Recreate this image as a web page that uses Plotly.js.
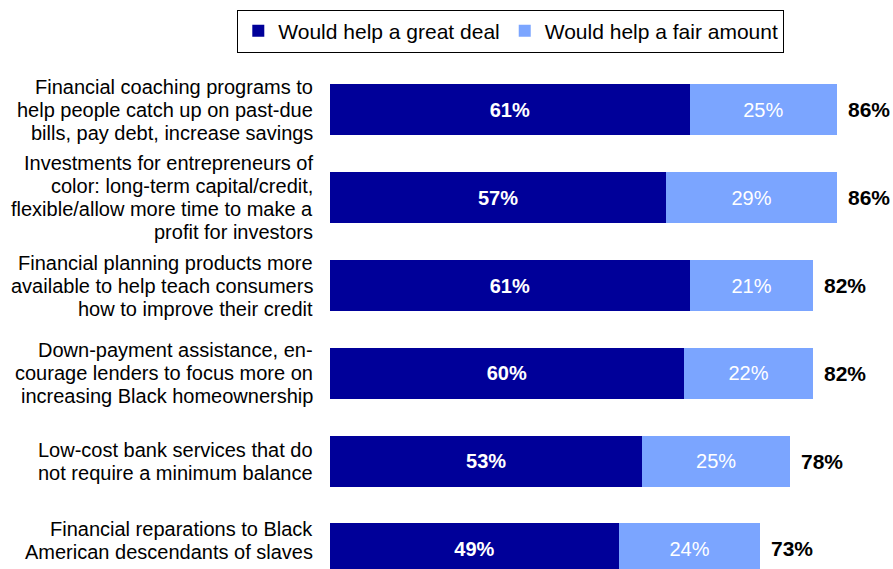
<!DOCTYPE html>
<html>
<head>
<meta charset="utf-8">
<script src="https://cdn.plot.ly/plotly-3.0.1.min.js"></script>
<style>html,body{margin:0;padding:0;background:#fff}#chart{width:893px;height:569px}</style>
</head>
<body>
<div id="chart"></div>
<script>
const categories = [
  "Financial coaching programs to<br>help people catch up on past-due<br>bills, pay debt, increase savings",
  "Investments for entrepreneurs of<br>color: long-term capital/credit,<br>flexible/allow more time to make a<br>profit for investors",
  "Financial planning products more<br>available to help teach consumers<br>how to improve their credit",
  "Down-payment assistance, en-<br>courage lenders to focus more on<br>increasing Black homeownership",
  "Low-cost bank services that do<br>not require a minimum balance",
  "Financial reparations to Black<br>American descendants of slaves"
];
const greatDeal = [61, 57, 61, 60, 53, 49];
const fairAmount = [25, 29, 21, 22, 25, 24];
const totals = [86, 86, 82, 82, 78, 73];
const seriesNames = ["Would help a great deal", "Would help a fair amount"];

const FONT = "Liberation Sans, Arial, sans-serif";
const DARK = "#000099";
const LIGHT = "#7BA5FF";
const LINE_PITCH = 23;     // px between lines of a category label
const LABEL_GAP = 15;      // px between label block and plot area
const BOTTOM_LIMIT = 564;  // keep label blocks inside the figure

const traces = [
  {
    type: "bar", orientation: "h", name: seriesNames[0],
    y: categories, x: greatDeal,
    marker: {color: DARK},
    width: 0.58,
    text: greatDeal.map(v => v + "%"),
    texttemplate: "<b>%{text}</b>",
    textposition: "inside", insidetextanchor: "middle",
    textfont: {color: "#ffffff", size: 20, family: FONT},
    hoverinfo: "skip"
  },
  {
    type: "bar", orientation: "h", name: seriesNames[1],
    y: categories, x: fairAmount,
    marker: {color: LIGHT},
    width: 0.58,
    text: fairAmount.map(v => v + "%"),
    textposition: "inside", insidetextanchor: "middle",
    textfont: {color: "#ffffff", size: 20, family: FONT},
    hoverinfo: "skip"
  }
];

const totalAnnotations = totals.map((t, i) => ({
  x: t, y: categories[i], xref: "x", yref: "y",
  text: "<b>" + t + "%</b>", showarrow: false,
  xanchor: "left", yanchor: "middle", xshift: 9,
  font: {size: 21, color: "#000000", family: FONT}
}));

const layout = {
  width: 893, height: 569,
  margin: {l: 330, r: 0, t: 66, b: 0, pad: 0},
  paper_bgcolor: "#ffffff", plot_bgcolor: "#ffffff",
  barmode: "stack",
  font: {family: FONT, color: "#000000", size: 20},
  showlegend: true,
  legend: {
    orientation: "h",
    xref: "container", yref: "container",
    x: 0.572, xanchor: "center",
    y: 1 - 31/569, yanchor: "middle",
    bordercolor: "#000000", borderwidth: 1,
    font: {size: 21, family: FONT, color: "#000000"},
    traceorder: "normal"
  },
  xaxis: {
    range: [0, 95.5], showgrid: false, zeroline: false,
    showticklabels: false, showline: false, ticks: "", fixedrange: true
  },
  yaxis: {
    type: "category",
    range: [5.229, -0.5],
    showgrid: false, zeroline: false, showline: false,
    ticks: "", automargin: false, showticklabels: false,
    fixedrange: true
  },
  annotations: totalAnnotations
};

const gd = document.getElementById("chart");
Plotly.newPlot(gd, traces, layout, {displayModeBar: false, staticPlot: true}).then(() => {
  const ya = gd._fullLayout.yaxis;
  const labelAnnotations = [];
  categories.forEach((cat, i) => {
    const lines = cat.split("<br>");
    const n = lines.length;
    const centerPx = ya._offset + ya.l2p(i);
    const blockBottom = centerPx + (n - 1) / 2 * LINE_PITCH + 12;
    const lift = Math.max(0, blockBottom - BOTTOM_LIMIT);
    lines.forEach((line, j) => {
      labelAnnotations.push({
        x: 0, xref: "paper", y: cat, yref: "y",
        xanchor: "right", yanchor: "middle",
        xshift: -LABEL_GAP,
        yshift: ((n - 1) / 2 - j) * LINE_PITCH + lift,
        text: line, showarrow: false,
        font: {size: 20, family: FONT, color: "#000000"}
      });
    });
  });
  return Plotly.relayout(gd, {annotations: totalAnnotations.concat(labelAnnotations)});
});
</script>
</body>
</html>
